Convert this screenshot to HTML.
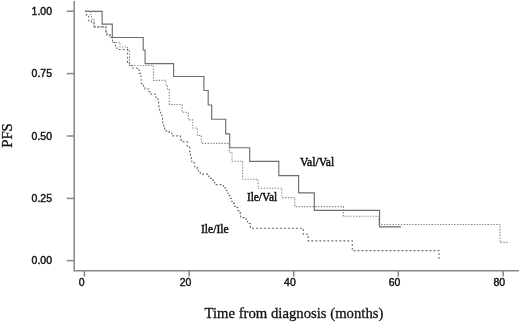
<!DOCTYPE html>
<html><head><meta charset="utf-8"><style>
html,body{margin:0;padding:0;background:#fff;width:520px;height:322px;overflow:hidden}
svg{display:block;will-change:transform}
.s{font-family:"Liberation Sans",sans-serif;font-size:10.0px;fill:#111;stroke:#111;stroke-width:0.4px}
.r{font-family:"Liberation Serif",serif;fill:#111}
</style></head><body>
<svg width="520" height="322" viewBox="0 0 520 322">
<g>
<g stroke="#868686" stroke-width="1.5" fill="none">
<path d="M74.2 1 L74.2 270.7 L519 270.7"/>
<path d="M66.8 11.2 L74.2 11.2"/>
<path d="M66.8 73.6 L74.2 73.6"/>
<path d="M66.8 136.0 L74.2 136.0"/>
<path d="M66.8 198.4 L74.2 198.4"/>
<path d="M66.8 260.6 L74.2 260.6"/>
<path d="M84.4 270.7 L84.4 276.6"/>
<path d="M189.2 270.7 L189.2 276.6"/>
<path d="M293.7 270.7 L293.7 276.6"/>
<path d="M398.3 270.7 L398.3 276.6"/>
<path d="M503.2 270.7 L503.2 276.6"/>
</g>
<path d="M85.1 11.4 L102.1 11.4 L102.1 24.1 L112.3 24.1 L112.3 37.5 L143.2 37.5 L143.2 50.0 L145.1 50.0 L145.1 63.6 L173.6 63.6 L173.6 76.5 L203.9 76.5 L203.9 90.5 L208.2 90.5 L208.2 105.0 L211.7 105.0 L211.7 119.2 L225.7 119.2 L225.7 133.8 L229.7 133.8 L229.7 147.7 L249.7 147.7 L249.7 161.4 L278.8 161.4 L278.8 175.6 L298.6 175.6 L298.6 192.9 L314.3 192.9 L314.3 210.3 L379.6 210.3 L379.6 226.8 L401.1 226.8" stroke="#6e6e6e" stroke-width="1.15" fill="none"/>
<path d="M85.0 11.2 L90.5 11.2 L90.5 14.5 L91.5 14.5 L91.5 19.0 L94.0 19.0 L94.0 22.0 L94.0 26.9 L105.8 26.9 L105.8 32.0 L107.0 32.0 L107.0 35.0 L110.0 35.0 L110.0 37.3 L112.5 37.3 L112.5 42.5 L120.0 42.5 L120.0 47.0 L127.5 47.0 L127.5 50.0 L129.5 50.0 L129.5 65.5 L153.5 65.5 L153.5 80.4 L166.0 80.4 L166.0 85.0 L167.5 85.0 L167.5 89.0 L169.3 89.0 L169.3 104.5 L182.1 104.5 L182.1 112.2 L188.3 112.2 L188.3 119.9 L192.7 119.9 L192.7 128.0 L197.4 128.0 L197.4 135.5 L201.4 135.5 L201.4 143.4 L229.2 143.4 L229.2 152.2 L232.0 152.2 L232.0 161.2 L242.6 161.2 L242.6 179.2 L258.0 179.2 L258.0 188.2 L281.8 188.2 L281.8 197.6 L294.8 197.6 L294.8 206.6 L343.3 206.6 L343.3 216.2 L378.8 216.2 L378.8 224.5 L500.0 224.5 L500.0 242.4 L509.0 242.4" stroke="#888" stroke-width="1.1" stroke-dasharray="1.4 1.4" fill="none"/>
<path d="M85.0 11.2 L86.4 11.2 L86.4 14.8 L88.5 14.8 L88.5 17.0 L88.8 17.0 L88.8 21.0 L91.5 21.0 L91.5 22.0 L94.0 22.0 L94.0 26.9 L105.8 26.9 L105.8 32.0 L107.0 32.0 L107.0 35.0 L110.0 35.0 L110.0 37.3 L112.5 37.3 L112.5 42.5 L115.5 42.5 L115.5 47.0 L117.0 47.0 L117.0 49.5 L127.5 49.5 L127.5 62.5 L129.5 62.5 L129.5 65.6 L132.5 65.6 L132.5 68.0 L137.0 68.0 L137.0 70.0 L139.2 70.0 L139.2 73.4 L140.5 73.4 L140.5 76.0 L141.0 76.0 L141.0 80.0 L141.5 80.0 L141.5 83.6 L143.5 83.6 L143.5 86.0 L145.0 86.0 L145.0 89.0 L149.0 89.0 L149.0 91.6 L151.0 91.6 L151.0 94.2 L156.0 94.2 L156.0 97.5 L158.0 97.5 L158.0 100.0 L158.6 100.0 L158.6 104.0 L158.9 104.0 L158.9 107.4 L159.5 107.4 L159.5 111.0 L160.5 111.0 L160.5 114.2 L161.8 114.2 L161.8 116.7 L162.5 116.7 L162.5 120.4 L162.8 120.4 L162.8 124.3 L163.6 124.3 L163.6 127.5 L164.6 127.5 L164.6 130.8 L169.2 130.8 L169.2 132.4 L171.8 132.4 L171.8 135.9 L180.5 135.9 L180.5 139.9 L183.0 139.9 L183.0 141.6 L187.3 141.6 L187.3 146.1 L189.7 146.1 L189.7 151.6 L190.5 151.6 L190.5 155.5 L191.2 155.5 L191.2 158.4 L191.8 158.4 L191.8 162.8 L194.8 162.8 L194.8 167.4 L197.2 167.4 L197.2 168.6 L198.5 168.6 L198.5 171.7 L200.3 171.7 L200.3 174.1 L208.8 174.1 L208.8 178.3 L211.5 178.3 L211.5 179.8 L213.0 179.8 L213.0 182.3 L214.6 182.3 L214.6 184.6 L223.3 184.6 L223.3 187.8 L225.6 187.8 L225.6 190.3 L226.9 190.3 L226.9 193.2 L229.0 193.2 L229.0 195.4 L229.8 195.4 L229.8 198.3 L231.5 198.3 L231.5 201.2 L233.6 201.2 L233.6 203.3 L234.8 203.3 L234.8 206.3 L237.0 206.3 L237.0 207.4 L237.8 207.4 L237.8 210.6 L240.2 210.6 L240.2 213.3 L240.6 213.3 L240.6 217.6 L244.1 217.6 L244.1 218.3 L246.1 218.3 L246.1 220.2 L247.5 220.2 L247.5 223.5 L250.4 223.5 L250.4 228.2 L303.2 228.2 L303.2 234.2 L308.2 234.2 L308.2 240.8 L352.3 240.8 L352.3 250.6 L439.0 250.6 L439.0 260.0" stroke="#6a6a6a" stroke-width="1.15" stroke-dasharray="1.9 2.1" fill="none"/>
<text class="s" transform="translate(52,15.0) scale(1.05,1)" text-anchor="end">1.00</text>
<text class="s" transform="translate(52,77.4) scale(1.05,1)" text-anchor="end">0.75</text>
<text class="s" transform="translate(52,139.8) scale(1.05,1)" text-anchor="end">0.50</text>
<text class="s" transform="translate(52,202.2) scale(1.05,1)" text-anchor="end">0.25</text>
<text class="s" transform="translate(52,264.4) scale(1.05,1)" text-anchor="end">0.00</text>
<text class="s" transform="translate(81.6,285.6) scale(1.05,1)" text-anchor="middle">0</text>
<text class="s" transform="translate(185.5,285.6) scale(1.05,1)" text-anchor="middle">20</text>
<text class="s" transform="translate(289.9,285.6) scale(1.05,1)" text-anchor="middle">40</text>
<text class="s" transform="translate(394.6,285.6) scale(1.05,1)" text-anchor="middle">60</text>
<text class="s" transform="translate(499.3,285.6) scale(1.05,1)" text-anchor="middle">80</text>
<text class="r" font-size="14.8" stroke="#111" stroke-width="0.3" transform="translate(11.9,135.5) rotate(-90)" text-anchor="middle">PFS</text>
<text class="r" font-size="15.6" stroke="#111" stroke-width="0.3" transform="translate(204.5,317.6) scale(0.944,1)">Time from diagnosis (months)</text>
<text class="r" font-size="11.6" stroke="#111" stroke-width="0.45" x="300" y="165.6">Val/Val</text>
<text class="r" font-size="11.6" stroke="#111" stroke-width="0.45" transform="translate(246.9,200.8) scale(0.98,1)">Ile/Val</text>
<text class="r" font-size="11.6" stroke="#111" stroke-width="0.45" x="201" y="233.1">Ile/Ile</text>
</g>
</svg>
</body></html>
